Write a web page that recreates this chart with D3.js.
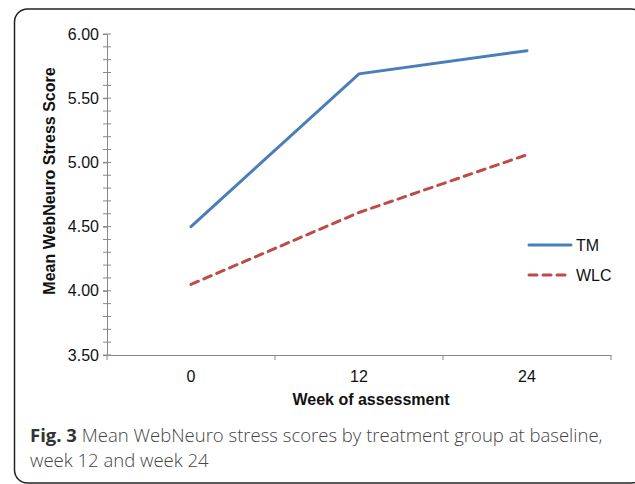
<!DOCTYPE html>
<html><head><meta charset="utf-8">
<script src="https://cdn.jsdelivr.net/npm/d3@7"></script>
<style>body{margin:0;background:#fff}svg{display:block}</style>
</head><body>
<svg id="c" width="635" height="484"></svg>
<script>
const weeks = ["0", "12", "24"];
const tmValues = [4.50, 5.69, 5.87];
const wlcValues = [4.05, 4.61, 5.06];
const yTicks = [3.50, 4.00, 4.50, 5.00, 5.50, 6.00];
const seriesNames = ["TM", "WLC"];

(function () {
const FONT = "Liberation Sans, Arial, sans-serif";
const svg = d3.select("#c");
svg.append("rect").attr("x", 14.5).attr("y", 9).attr("width", 630).attr("height", 474)
  .attr("rx", 13).attr("fill", "none").attr("stroke", "#222").attr("stroke-width", 1.5);

const pLeft = 107, pRight = 611, pTop = 34, pBottom = 355;
const x = d3.scaleBand().domain(weeks).range([pLeft, pRight]);
const y = d3.scaleLinear().domain([3.5, 6.0]).range([pBottom, pTop]);

// minor ticks
const minor = d3.range(35, 61).map(v => v / 10);
svg.append("g").selectAll("line").data(minor).join("line")
  .attr("x1", pLeft - 4).attr("x2", pLeft + 4)
  .attr("y1", d => y(d)).attr("y2", d => y(d))
  .attr("stroke", "#888").attr("stroke-width", 1);

const yAxis = svg.append("g").attr("transform", `translate(${pLeft},0)`)
  .call(d3.axisLeft(y).tickValues(yTicks).tickFormat(d3.format(".2f")).tickSize(4).tickPadding(4));
yAxis.select(".domain").attr("stroke", "#888");
yAxis.selectAll(".tick line").attr("stroke", "#888");
yAxis.selectAll("text").attr("font-family", FONT).attr("font-size", 16).attr("fill", "#111");

const xAxis = svg.append("g").attr("transform", `translate(0,${pBottom})`)
  .call(d3.axisBottom(x).tickSize(0).tickPadding(16));
xAxis.select(".domain").attr("stroke", "#888");
xAxis.selectAll("text").attr("font-family", FONT).attr("font-size", 16).attr("fill", "#111");
const bounds = [pLeft].concat(weeks.map(w => x(w) + x.bandwidth()));
svg.append("g").selectAll("line").data(bounds).join("line")
  .attr("x1", d => d).attr("x2", d => d).attr("y1", pBottom).attr("y2", pBottom + 5)
  .attr("stroke", "#888");

const line = d3.line().x((d, i) => x(weeks[i]) + x.bandwidth() / 2).y(d => y(d));
svg.append("path").attr("d", line(tmValues)).attr("fill", "none")
  .attr("stroke", "#4a7ebb").attr("stroke-width", 3).attr("stroke-linecap", "round");
svg.append("path").attr("d", line(wlcValues)).attr("fill", "none")
  .attr("stroke", "#be4b48").attr("stroke-width", 3).attr("stroke-dasharray", "8,6")
  .attr("stroke-linecap", "round");

// legend
const lg = svg.append("g");
const styles = [{c: "#4a7ebb", d: null, y: 245}, {c: "#be4b48", d: "8,6", y: 275}];
seriesNames.forEach((n, i) => {
  lg.append("line").attr("x1", 529).attr("x2", 571).attr("y1", styles[i].y).attr("y2", styles[i].y)
    .attr("stroke", styles[i].c).attr("stroke-width", 3).attr("stroke-dasharray", styles[i].d)
    .attr("stroke-linecap", "round");
  lg.append("text").attr("x", 576).attr("y", styles[i].y + 6).text(n)
    .attr("font-family", FONT).attr("font-size", 16).attr("fill", "#111");
});

svg.append("text").attr("transform", "translate(55,181) rotate(-90)").attr("text-anchor", "middle")
  .attr("font-family", FONT).attr("font-size", 16).attr("font-weight", "bold")
  .attr("fill", "#111").text("Mean WebNeuro Stress Score");
svg.append("text").attr("x", 371).attr("y", 405).attr("text-anchor", "middle")
  .attr("font-family", FONT).attr("font-size", 16).attr("font-weight", "bold")
  .attr("fill", "#111").text("Week of assessment");

const cap = svg.append("text").attr("x", 30).attr("y", 442)
  .attr("font-family", "Open Sans, sans-serif").attr("font-size", 17).attr("fill", "#444");
cap.append("tspan").attr("font-weight", "bold").attr("fill", "#333").text("Fig. 3");
cap.append("tspan").attr("font-weight", "300").text(" Mean WebNeuro stress scores by treatment group at baseline,");
const cap2 = svg.append("text").attr("x", 30).attr("y", 467)
  .attr("font-family", "Open Sans, sans-serif").attr("font-size", 17).attr("fill", "#444").attr("font-weight", "300")
  .text("week 12 and week 24");
// fit caption width to the reference's line length
const w = cap.node().getComputedTextLength();
const fs = Math.max(15, Math.min(20, 17 * 573 / w));
cap.attr("font-size", fs);
cap2.attr("font-size", fs);
})();
</script>
</body></html>
